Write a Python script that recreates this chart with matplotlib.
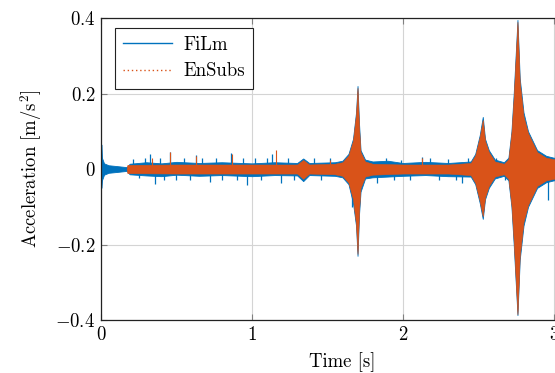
import numpy as np
import matplotlib
matplotlib.use("Agg")
import matplotlib.pyplot as plt
from matplotlib.lines import Line2D

plt.rcParams['font.family'] = 'serif'
plt.rcParams['font.serif'] = ['cmr10']
plt.rcParams['mathtext.fontset'] = 'cm'
plt.rcParams['axes.formatter.use_mathtext'] = True
plt.rcParams['font.size'] = 13.5

# envelope of the FiLm signal
t_film = [0.0, 0.002, 0.006, 0.02, 0.05, 0.10, 0.17, 0.19, 0.3, 0.4, 0.5, 0.65, 0.8, 1.0,
          1.15, 1.3, 1.34, 1.38, 1.55, 1.60, 1.64, 1.67, 1.69, 1.70, 1.71, 1.72, 1.75,
          1.80, 1.9, 2.0, 2.15, 2.3, 2.45, 2.48, 2.51, 2.53, 2.545, 2.57, 2.61, 2.67,
          2.70, 2.72, 2.735, 2.76, 2.775, 2.80, 2.83, 2.89, 2.95, 3.0, 3.2]
up_film = [0.0, 0.065, 0.03, 0.015, 0.01, 0.008, 0.005, 0.014, 0.018, 0.015, 0.019, 0.016, 0.018, 0.015,
           0.018, 0.016, 0.028, 0.016, 0.018, 0.022, 0.04, 0.08, 0.15, 0.22, 0.12, 0.05, 0.025,
           0.02, 0.022, 0.016, 0.019, 0.016, 0.02, 0.04, 0.09, 0.138, 0.08, 0.05, 0.025, 0.018,
           0.03, 0.10, 0.20, 0.395, 0.24, 0.15, 0.10, 0.05, 0.035, 0.03, 0.025]
lo_film = [0.0, -0.05, -0.03, -0.015, -0.01, -0.008, -0.005, -0.014, -0.017, -0.019, -0.015, -0.018, -0.016, -0.019,
           -0.016, -0.017, -0.032, -0.016, -0.018, -0.022, -0.04, -0.09, -0.15, -0.23, -0.12, -0.06, -0.025,
           -0.022, -0.02, -0.018, -0.016, -0.019, -0.02, -0.04, -0.09, -0.132, -0.08, -0.05, -0.025, -0.018,
           -0.03, -0.10, -0.20, -0.387, -0.24, -0.15, -0.10, -0.05, -0.035, -0.03, -0.025]

# single spikes sticking out of the FiLm band
spk_t_film = [0.21, 0.25, 0.29, 0.325, 0.36, 0.39, 0.42, 0.46, 0.50, 0.55, 0.59, 0.63, 0.67,
              0.72, 0.76, 0.80, 0.86, 0.90, 0.94, 0.97, 1.02, 1.06, 1.10, 1.13, 1.19, 1.24,
              1.28, 1.41, 1.46, 1.52, 1.662, 1.83, 1.89, 1.94, 1.99, 2.05, 2.13, 2.18, 2.24, 2.30,
              2.35, 2.39, 2.43, 2.62, 2.68, 2.96]
spk_v_film = [0.027, -0.025, 0.03, 0.04, -0.04, 0.03, -0.028, 0.045, -0.03, 0.03, -0.028, 0.037, 0.03,
              -0.035, 0.028, -0.03, 0.042, -0.028, 0.03, -0.042, 0.03, -0.03, 0.03, 0.04, -0.037, 0.028,
              -0.03, 0.03, -0.03, 0.028, -0.10, -0.037, 0.03, -0.03, 0.025, -0.028, 0.032, 0.028, -0.03, 0.027,
              -0.03, -0.037, 0.03, 0.03, -0.03, -0.082]

# envelope of the EnSubs signal
t_ens = [0.17, 0.175, 0.5, 1.0, 1.3, 1.34, 1.38, 1.55, 1.60, 1.64, 1.67, 1.69, 1.70, 1.71,
         1.72, 1.75, 1.80, 2.0, 2.3, 2.45, 2.48, 2.51, 2.53, 2.545, 2.57, 2.61, 2.67, 2.70,
         2.72, 2.735, 2.76, 2.775, 2.80, 2.83, 2.89, 2.95, 3.0, 3.2]
up_ens = [0.0, 0.011, 0.012, 0.012, 0.012, 0.024, 0.012, 0.014, 0.018, 0.036, 0.075, 0.145, 0.215, 0.11,
          0.045, 0.02, 0.014, 0.012, 0.012, 0.016, 0.036, 0.085, 0.13, 0.075, 0.045, 0.02, 0.014, 0.026,
          0.095, 0.19, 0.39, 0.23, 0.14, 0.095, 0.045, 0.03, 0.026, 0.022]
lo_ens = [0.0, -0.011, -0.012, -0.012, -0.012, -0.026, -0.012, -0.014, -0.018, -0.036, -0.08, -0.145, -0.225, -0.11,
          -0.05, -0.02, -0.015, -0.012, -0.012, -0.016, -0.036, -0.085, -0.125, -0.075, -0.045, -0.02, -0.014, -0.026,
          -0.095, -0.19, -0.385, -0.23, -0.14, -0.095, -0.045, -0.03, -0.026, -0.022]

spk_t_ens = [0.34, 0.46, 0.63, 0.87, 1.16, 1.52, 2.13]
spk_v_ens = [0.03, 0.045, 0.035, 0.04, 0.05, 0.025, 0.028]

blue = '#0072BD'
orange = '#D95319'

fig = plt.figure(figsize=(5.55, 3.73), dpi=100)
ax = fig.add_axes([0.182, 0.142, 0.870, 0.8097])

ax.fill_between(t_film, lo_film, up_film, color=blue, lw=0.6, zorder=2)
ax.vlines(spk_t_film, 0, spk_v_film, color=blue, lw=0.9, zorder=2)
ax.fill_between(t_ens, lo_ens, up_ens, color=orange, lw=0.4, zorder=3)
ax.vlines(spk_t_ens, 0, spk_v_ens, color=orange, lw=0.8, zorder=3)

ax.set_xlim(0, 3.2)
ax.set_ylim(-0.4, 0.4)
ax.set_xticks([0, 1, 2, 3])
ax.set_yticks([-0.4, -0.2, 0, 0.2, 0.4])
ax.set_xticklabels(['0', '1', '2', '3'])
ax.set_yticklabels(['$-0.4$', '$-0.2$', '$0$', '$0.2$', '$0.4$'])
ax.grid(True, color='#d4d4d4', lw=0.8, zorder=0)
ax.set_axisbelow(True)
ax.tick_params(direction='in', length=4, color='#808080', top=True, right=True, pad=4)
for s in ax.spines.values():
    s.set_linewidth(0.9)
    s.set_color('#222222')

ax.set_xlabel('Time [s]', labelpad=6)
ax.set_ylabel('Acceleration [m/s$^2$]', labelpad=8)

handles = [Line2D([], [], color=blue, lw=1.0),
           Line2D([], [], color=orange, lw=1.0, ls=(0, (1, 2)))]
leg = ax.legend(handles, ['FiLm', 'EnSubs'], loc='upper left', bbox_to_anchor=(0.028, 0.968),
                fancybox=False, edgecolor='#222222', framealpha=1, handlelength=2.6,
                borderpad=0.45, labelspacing=0.45, handletextpad=0.6, borderaxespad=0)
leg.get_frame().set_linewidth(0.8)

fig.savefig('out.png', dpi=100)
